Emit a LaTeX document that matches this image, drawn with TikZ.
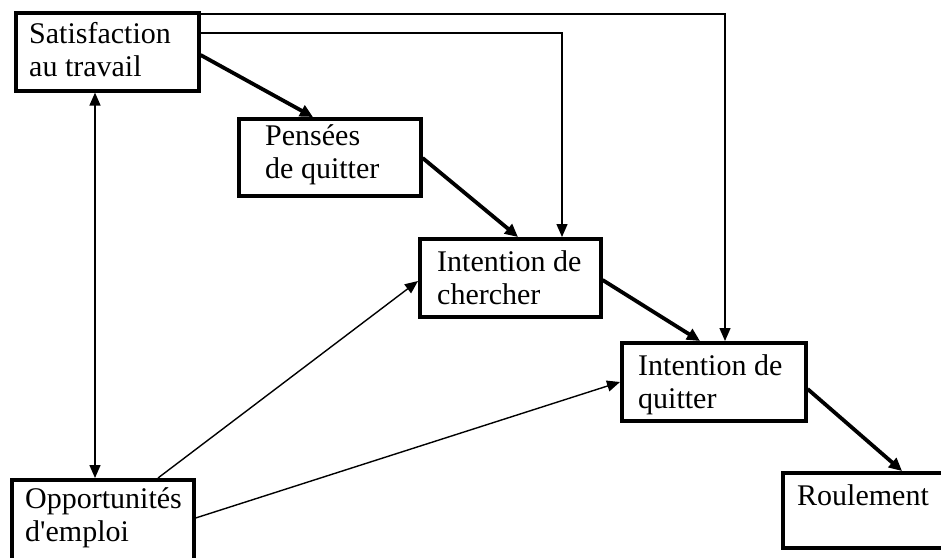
\documentclass[tikz,border=0pt]{standalone}
\usepackage{fontspec}
\setmainfont{Liberation Serif}
\usetikzlibrary{arrows.meta,calc}

\tikzset{
  box/.style={draw, line width=3.6pt, rectangle, anchor=north west, inner sep=0pt, fill=white},
  boxtext/.style={anchor=base west, inner sep=0pt, font=\fontsize{30}{33}\selectfont},
  thinarrow/.style={line width=1.4pt, -{Triangle[length=13pt,width=11pt]}},
  thickarrow/.style={line width=3.8pt, -{Triangle[length=13pt,width=12pt]}},
  bothways/.style={line width=1.4pt, {Triangle[length=13pt,width=11pt]}-{Triangle[length=13pt,width=11pt]}},
}

\newcommand{\twolines}[2]{\begin{tabular}[t]{@{}l@{}}#1\\#2\end{tabular}}

\begin{document}
\begin{tikzpicture}[x=1pt,y=-1pt]
  % page frame
  \fill[white] (0,0) rectangle (941,557);
  \useasboundingbox (0,0) rectangle (941,557);

  % boxes
  \node[box, minimum width=183pt, minimum height=78pt] (sat) at (14,11) {};
  \node[box, minimum width=182pt, minimum height=77pt] (pen) at (237,117) {};
  \node[box, minimum width=181pt, minimum height=78pt] (che) at (418,237) {};
  \node[box, minimum width=184pt, minimum height=78pt] (qui) at (620,341) {};
  \node[box, minimum width=182pt, minimum height=95pt] (opp) at (10,478) {};
  \node[box, minimum width=190pt, minimum height=75pt] (rou) at (781,471) {};

  % labels
  \node[boxtext] (sat-t) at (29,43)  {\twolines{Satisfaction}{au travail}};
  \node[boxtext] (pen-t) at (265,145) {\twolines{Pensées}{de quitter}};
  \node[boxtext] (che-t) at (437,271) {\twolines{Intention de}{chercher}};
  \node[boxtext] (qui-t) at (638,375) {\twolines{Intention de}{quitter}};
  \node[boxtext] (opp-t) at (25,508)  {\twolines{Opportunités}{d\textquotesingle emploi}};
  \node[boxtext] (rou-t) at (797,505) {Roulement};

  % main chain (thick)
  \draw[thickarrow] ($(sat.north east)+(0,44)$) -- ($(pen.north west)+(76,0)$);
  \draw[thickarrow] ($(pen.north east)+(0,41)$) -- ($(che.north west)+(100,0)$);
  \draw[thickarrow] ($(che.north east)+(0,43)$) -- ($(qui.north west)+(80,0)$);
  \draw[thickarrow] ($(qui.north east)+(0,48)$) -- ($(rou.north west)+(121,0)$);

  % direct paths from satisfaction (thin, elbowed)
  \draw[thinarrow] ($(sat.north east)+(0,3)$) -| ($(qui.north west)+(105,0)$);
  \draw[thinarrow] ($(sat.north east)+(0,22)$) -| ($(che.north west)+(144,0)$);

  % correlation between satisfaction and opportunities
  \draw[bothways] ($(sat.south west)+(81,0)$) -- ($(opp.north west)+(85,0)$);

  % opportunities paths (thin)
  \draw[thinarrow] ($(opp.north west)+(148,0)$) -- ($(che.north west)+(0,44)$);
  \draw[thinarrow] ($(opp.north east)+(0,40)$) -- ($(qui.north west)+(0,41)$);
\end{tikzpicture}
\end{document}
